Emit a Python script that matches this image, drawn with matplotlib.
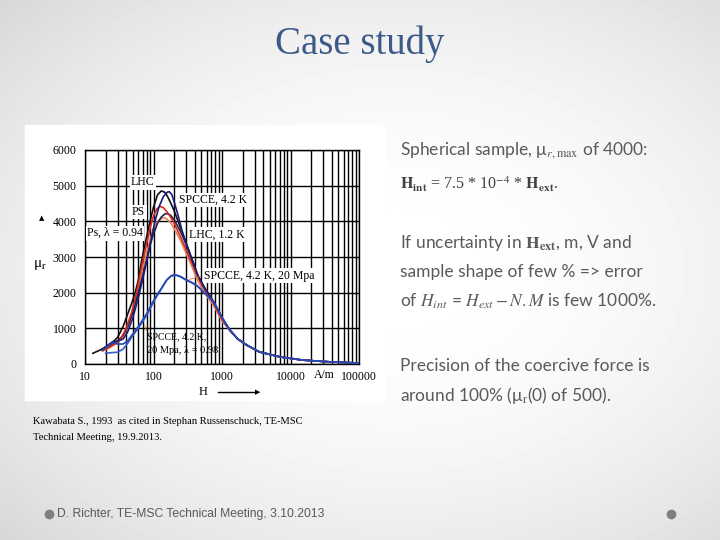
import numpy as np
import matplotlib
matplotlib.use("Agg")
import matplotlib.pyplot as plt
from matplotlib.patches import Rectangle
from matplotlib.lines import Line2D
from matplotlib.ticker import LogLocator, NullFormatter

# ---- data (H in A/m, mu_r) ----
tail_H = [1300, 1700, 2300, 3500, 7000, 15000, 37000, 100000]
tail_mu = [950, 700, 530, 340, 200, 110, 60, 25]

lhc_H = [13, 17, 20, 25, 30, 36, 42, 48, 54, 60, 67, 75, 89, 100, 115, 130, 145, 160,
         180, 200, 250, 300, 360, 440, 550, 750, 1000] + tail_H
lhc_mu = [300, 400, 480, 600, 750, 1050, 1400, 1700, 2000, 2350, 2900, 3350, 4000, 4400,
          4750, 4850, 4820, 4700, 4500, 4300, 3800, 3400, 2970, 2500, 2150, 1750, 1300] + tail_mu

spcce_H = [20, 25, 30, 36, 42, 50, 60, 70, 80, 90, 105, 120, 140, 160, 170, 185, 200,
           230, 260, 300, 360, 440, 550, 750, 1000] + tail_H
spcce_mu = [480, 620, 640, 700, 900, 1300, 1850, 2400, 2900, 3400, 4000, 4400, 4700, 4820,
            4830, 4750, 4550, 4150, 3750, 3350, 2950, 2500, 2150, 1750, 1300] + tail_mu

ps_H = [18, 22, 27, 33, 40, 48, 55, 62, 70, 80, 90, 100, 112, 125, 140, 160, 180, 200,
        250, 300, 360, 440, 550, 750, 1000] + tail_H
ps_mu = [380, 460, 560, 700, 1000, 1450, 1900, 2400, 2900, 3400, 3850, 4150, 4350, 4420,
         4380, 4250, 4100, 3950, 3550, 3200, 2850, 2450, 2100, 1700, 1250] + tail_mu

ps94_H = [18, 22, 27, 33, 40, 48, 55, 62, 70, 80, 90, 100, 115, 130, 145, 160, 180, 200,
          250, 300, 360, 440, 550, 750, 1000] + tail_H
ps94_mu = [360, 440, 540, 680, 950, 1350, 1800, 2250, 2700, 3150, 3500, 3800, 4000, 4080,
           4100, 4050, 3950, 3800, 3450, 3100, 2750, 2350, 2000, 1650, 1200] + tail_mu

lhc12_H = [20, 25, 30, 36, 42, 50, 60, 70, 80, 90, 100, 115, 130, 145, 158, 175, 200,
           250, 300, 360, 440, 550, 750, 1000] + tail_H
lhc12_mu = [420, 550, 650, 800, 1050, 1450, 2000, 2500, 2950, 3350, 3650, 3950, 4120, 4200,
            4220, 4180, 4050, 3700, 3350, 2950, 2500, 2150, 1750, 1300] + tail_mu

p20_H = [20, 25, 30, 36, 42, 50, 60, 70, 80, 95, 111, 130, 156, 180, 200, 220, 250, 300,
         360, 430, 550, 750, 1000] + tail_H
p20_mu = [300, 320, 330, 420, 580, 800, 1000, 1200, 1370, 1650, 1890, 2100, 2350, 2460,
          2490, 2480, 2440, 2350, 2280, 2200, 2000, 1750, 1300] + tail_mu

p98_H = [18, 22, 25, 30, 36, 42, 50, 60, 70, 80, 95, 111, 130, 156, 180, 200, 220, 250,
         300, 360, 430, 550, 750, 1000] + tail_H
p98_mu = [380, 520, 600, 560, 560, 650, 850, 1050, 1250, 1420, 1700, 1920, 2120, 2360,
          2470, 2500, 2490, 2450, 2360, 2290, 2200, 2000, 1750, 1300] + tail_mu

x_ticks = [10, 100, 1000, 10000, 100000]
x_labels = ["10", "100", "1000", "10000", "100000"]
y_ticks = [0, 1000, 2000, 3000, 4000, 5000, 6000]

W, H = 720, 540
serif = "Liberation Serif"
plt.rcParams["mathtext.fontset"] = "stix"

fig = plt.figure(figsize=(7.2, 5.4), dpi=100)

# slide background: soft radial grey
bg = fig.add_axes([0, 0, 1, 1], zorder=-10)
yy, xx = np.mgrid[0:1:270j, 0:1:360j]
r = np.hypot((xx - 0.55) / 0.8, (yy - 0.5) / 0.75)
bg.imshow(1 - 0.17 * np.clip(r, 0, 1) ** 2, cmap="gray", vmin=0, vmax=1,
          extent=[0, 1, 0, 1], aspect="auto")
bg.axis("off")

fig.add_artist(Rectangle((25 / W, 1 - 400 / H), 360 / W, 275 / H,
                         transform=fig.transFigure, color="white", zorder=-5))

ax = fig.add_axes([85 / W, 1 - 364 / H, 274 / W, 214 / H])
ax.set_xscale("log")
ax.set_xlim(10, 100000)
ax.set_ylim(0, 6000)
ax.xaxis.set_minor_locator(LogLocator(base=10, subs=range(2, 10)))
ax.xaxis.set_minor_formatter(NullFormatter())
ax.set_xticks(x_ticks, labels=x_labels)
ax.set_yticks(y_ticks)
ax.grid(True, which="both", axis="x", color="black", lw=1.0)
ax.grid(True, which="major", axis="y", color="black", lw=1.0)
ax.tick_params(which="both", length=0, labelsize=8.5)
ax.tick_params(axis="x", pad=5)
ax.tick_params(axis="y", pad=6)
for lab in ax.get_xticklabels() + ax.get_yticklabels():
    lab.set_family(serif)
for s in ax.spines.values():
    s.set_linewidth(1.0)

ax.plot(lhc_H, lhc_mu, color="#111111", lw=1.2, zorder=3)
ax.plot(ps94_H, ps94_mu, color="#e8845a", lw=1.2, zorder=3)
ax.plot(lhc12_H, lhc12_mu, color="#22224a", lw=1.2, zorder=3)
ax.plot(ps_H, ps_mu, color="#d42a1e", lw=1.2, zorder=3)
ax.plot(spcce_H, spcce_mu, color="#1c1c7a", lw=1.2, zorder=3)
ax.plot(p20_H, p20_mu, color="#3a5ccc", lw=1.2, zorder=3)
ax.plot(p98_H, p98_mu, color="#2848b0", lw=1.2, zorder=3)

box = dict(facecolor="white", edgecolor="none", pad=1)
kw = dict(family=serif, fontsize=8.5, va="center", bbox=box, zorder=4)
ax.text(47, 5100, "LHC", **kw)
ax.text(235, 4600, "SPCCE, 4.2 K", **kw)
ax.text(48.5, 4260, "PS", **kw)
ax.text(10.7, 3670, "Ps, λ = 0.94", **kw)
ax.text(330, 3620, "LHC, 1.2 K", **kw)
ax.text(546, 2470, "SPCCE, 4.2 K, 20 Mpa", **kw)
ax.text(80, 757, "SPCCE, 4.2 K,", family=serif, fontsize=7, va="center", zorder=4)
ax.text(80, 392, "20 Mpa, λ = 0.98", family=serif, fontsize=7.5, va="center", zorder=4)
lead = dict(arrowstyle="-", color="#d08040", lw=0.6)
ax.annotate("", xy=(300, 2350), xytext=(530, 2470), arrowprops=lead)
ax.annotate("", xy=(72, 1180), xytext=(80, 860), arrowprops=lead)

# axis captions of the scanned figure
fig.text(324 / W, 1 - 375 / H, "A/m", family=serif, fontsize=8.5, ha="center", va="center")
fig.text(203 / W, 1 - 392 / H, "H", family=serif, fontsize=9, ha="center", va="center")
fig.add_artist(Line2D([218 / W, 254 / W], [1 - 392 / H, 1 - 392 / H], color="black", lw=1))
fig.text(258 / W, 1 - 392 / H, "▶", fontsize=5, ha="center", va="center")
fig.text(40 / W, 1 - 265 / H, "μ$_\\mathrm{r}$", family=serif, fontsize=11,
         ha="center", va="center")
fig.text(42 / W, 1 - 218 / H, "▲", fontsize=5, ha="center", va="center")

# slide texts
fig.text(360 / W, 1 - 44 / H, "Case study", family=serif, fontsize=28,
         color="#3c5a88", ha="center", va="center")

body = dict(family="Lato", fontsize=12.5, color="#5a5a5a", va="center")
fig.text(400 / W, 1 - 151 / H, r"Spherical sample, μ$_{r,\mathrm{max}}$ of 4000:", **body)
fig.text(400 / W, 1 - 183 / H,
         r"$\mathbf{H_{int}}$ = 7.5 * 10$^{-4}$ * $\mathbf{H_{ext}}$.",
         family=serif, fontsize=11.5, color="#404040", va="center")
fig.text(400 / W, 1 - 243 / H, r"If uncertainty in $\mathbf{H_{ext}}$, m, V and", **body)
fig.text(400 / W, 1 - 272 / H, "sample shape of few % => error", **body)
fig.text(400 / W, 1 - 301 / H, r"of $H_{int}$ = $H_{ext} - N.M$ is few 1000%.", **body)
fig.text(400 / W, 1 - 366 / H, "Precision of the coercive force is", **body)
fig.text(400 / W, 1 - 395 / H, r"around 100% (μ$_\mathrm{r}$(0) of 500).", **body)

fig.text(33 / W, 1 - 422 / H, "Kawabata S., 1993  as cited in Stephan Russenschuck, TE-MSC",
         family=serif, fontsize=7.6, va="center")
fig.text(33 / W, 1 - 437 / H, "Technical Meeting, 19.9.2013.",
         family=serif, fontsize=7.6, va="center")

for bx in (49, 671):
    fig.add_artist(Line2D([bx / W], [1 - 514 / H], marker="o", markersize=6,
                          color="#7f7f7f", linestyle="none"))
fig.text(57 / W, 1 - 514 / H, "D. Richter, TE-MSC Technical Meeting, 3.10.2013",
         family="Liberation Sans", fontsize=8.7, color="#5a5a5a", va="center")

fig.savefig("out.png", dpi=100)
